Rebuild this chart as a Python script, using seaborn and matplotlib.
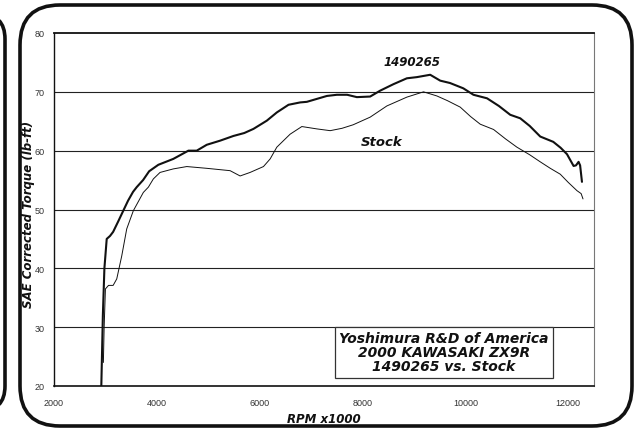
import numpy as np
import pandas as pd
import matplotlib
matplotlib.use('Agg')
import matplotlib.pyplot as plt
from matplotlib.patches import FancyBboxPatch
from matplotlib.transforms import IdentityTransform
import seaborn as sns

# datos (rpm, torque lb-ft)
rpm_mod = [2920, 2950, 2980, 3025, 3089, 3150, 3250, 3342, 3440, 3537, 3608, 3732,
           3850, 4029, 4320, 4613, 4775, 4970, 5230, 5489, 5700, 5878, 6138, 6333,
           6560, 6786, 6916, 7111, 7306, 7500, 7700, 7889, 8148, 8342, 8600, 8861,
           9056, 9315, 9510, 9700, 9958, 10156, 10420, 10650, 10871, 11066, 11250,
           11455, 11708, 11850, 11975, 12103, 12150, 12200, 12230, 12266]
torque_mod = [20, 32, 40, 45, 45.5, 46.2, 48, 49.7, 51.5, 53, 53.8, 55,
              56.5, 57.6, 58.6, 60, 60, 61, 61.7, 62.5, 63, 63.7, 65.1, 66.5,
              67.8, 68.2, 68.3, 68.8, 69.3, 69.5, 69.5, 69.1, 69.2, 70.2, 71.3, 72.3,
              72.5, 72.9, 71.9, 71.5, 70.6, 69.5, 68.9, 67.6, 66.1, 65.5, 64.2,
              62.4, 61.5, 60.5, 59.4, 57.4, 57.5, 58.1, 57.5, 54.7]

rpm_stock = [2960, 2975, 3000, 3060, 3150, 3220, 3317, 3414, 3543, 3737, 3835, 3932,
             4062, 4320, 4582, 4970, 5424, 5619, 5813, 6073, 6203, 6333, 6591, 6819,
             7111, 7370, 7600, 7817, 8148, 8472, 8861, 9185, 9445, 9650, 9899, 10100,
             10288, 10547, 10780, 11000, 11250, 11455, 11650, 11844, 12000, 12169,
             12250, 12286]
torque_stock = [24, 30, 36.5, 37.1, 37.1, 38.2, 42.1, 46.7, 49.8, 52.9, 53.8, 55.2,
                56.3, 56.9, 57.3, 57, 56.6, 55.7, 56.3, 57.3, 58.6, 60.6, 62.8, 64.1,
                63.7, 63.4, 63.8, 64.4, 65.7, 67.6, 69.1, 70.0, 69.3, 68.5, 67.4, 65.8,
                64.5, 63.6, 62, 60.6, 59.3, 58.1, 57, 56, 54.6, 53.2,
                52.7, 51.8]

x_ticks = [2000, 4000, 6000, 8000, 10000, 12000]
y_ticks = [20, 30, 40, 50, 60, 70, 80]

titulo = "Yoshimura R&D of America\n2000 KAWASAKI ZX9R\n1490265 vs. Stock"

sns.set_style("white")
plt.rcParams['font.family'] = ['Liberation Sans', 'DejaVu Sans']

fig = plt.figure(figsize=(6.35, 4.31), dpi=100)
ax = fig.add_axes([54 / 635, 1 - 387 / 431, 540 / 635, 353 / 431])

sns.lineplot(x=rpm_mod, y=torque_mod, ax=ax, color='#111111', linewidth=1.5)
sns.lineplot(x=rpm_stock, y=torque_stock, ax=ax, color='#111111', linewidth=0.7)

ax.set_xlim(2000, 12500)
ax.set_ylim(20, 80)
ax.set_xticks(x_ticks)
ax.set_yticks(y_ticks)
ax.tick_params(axis='both', labelsize=6.5, colors='#333333', length=3, width=0.8,
               direction='out')
ax.tick_params(axis='x', pad=6)
for y in y_ticks[1:-1]:
    ax.axhline(y, color='#222222', linewidth=0.8, zorder=0)

ax.spines['top'].set_color('#111111')
ax.spines['top'].set_linewidth(1.3)
ax.spines['left'].set_color('#111111')
ax.spines['left'].set_linewidth(1.0)
ax.spines['bottom'].set_color('#111111')
ax.spines['bottom'].set_linewidth(1.2)
ax.spines['right'].set_color('#777777')
ax.spines['right'].set_linewidth(0.8)

fuente = dict(family='DejaVu Sans', weight='bold', style='italic', color='#111111')
ax.set_xlabel('RPM x1000', fontsize=8.5, labelpad=3, **fuente)
ax.set_ylabel('SAE Corrected Torque (lb-ft)', fontsize=8.5, **fuente)
ax.yaxis.set_label_coords(-0.036, 0.49)

ax.text(8965, 75.2, '1490265', fontsize=8.5, ha='center', va='center', **fuente)
ax.text(8362, 61.5, 'Stock', fontsize=9.5, ha='center', va='center', **fuente)
ax.text(9582, 25.75, titulo, fontsize=10, ha='center', va='center', linespacing=1.0,
        bbox=dict(boxstyle='square,pad=0.33', facecolor='white', edgecolor='#333333',
                  linewidth=0.9), **fuente)

# marco redondeado
marco = FancyBboxPatch((20, 4), 612, 421, boxstyle='round,pad=0,rounding_size=40',
                       transform=IdentityTransform(), fill=False,
                       edgecolor='#111111', linewidth=2.6)
fig.patches.append(marco)
marco2 = FancyBboxPatch((-200, 19), 205, 397, boxstyle='round,pad=0,rounding_size=25',
                        transform=IdentityTransform(), fill=False,
                        edgecolor='#111111', linewidth=2.6)
fig.patches.append(marco2)

fig.savefig('out.png', dpi=100)
